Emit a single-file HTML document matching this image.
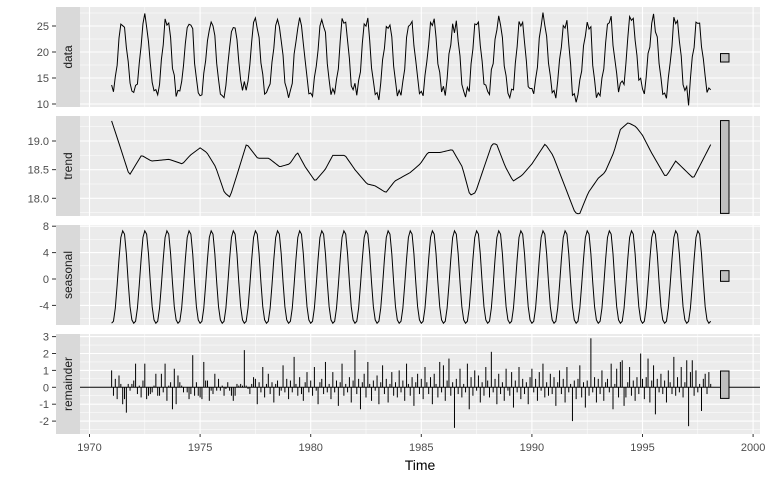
<!DOCTYPE html>
<html><head><meta charset="utf-8"><style>
body{margin:0;background:#fff;}
svg{display:block;font-family:"Liberation Sans",sans-serif;}
</style></head><body>
<svg id="chart" width="768" height="480" viewBox="0 0 768 480" xmlns="http://www.w3.org/2000/svg"></svg>
<script>
// ---- data ----
const startYear = 1971;
const seasonalPattern = [-6.7,-6.4,-4.4,-0.9,3.0,6.3,7.3,6.8,3.8,-0.5,-4.2,-6.2];
const trendYears = [1971.0,1971.3,1971.8,1972.35,1972.8,1973.6,1974.2,1974.55,1975.0,1975.3,1975.7,1976.1,1976.35,1976.7,1977.1,1977.6,1978.1,1978.6,1979.05,1979.4,1979.75,1980.2,1980.65,1981.0,1981.55,1982.0,1982.55,1982.9,1983.4,1983.8,1984.5,1984.95,1985.3,1985.85,1986.4,1986.85,1987.2,1987.45,1987.8,1988.2,1988.4,1988.8,1989.15,1989.55,1990.0,1990.6,1990.95,1991.5,1991.95,1992.15,1992.55,1993.0,1993.3,1993.7,1994.0,1994.35,1994.7,1995.0,1995.4,1996.0,1996.1,1996.5,1997.3,1998.1];
const trendValues = [19.35,19.0,18.4,18.75,18.65,18.68,18.6,18.75,18.88,18.8,18.55,18.1,18.02,18.45,18.95,18.7,18.7,18.55,18.6,18.8,18.55,18.3,18.5,18.75,18.75,18.5,18.25,18.22,18.1,18.3,18.45,18.6,18.8,18.8,18.85,18.55,18.05,18.1,18.5,18.95,18.95,18.55,18.3,18.4,18.6,18.95,18.75,18.2,17.75,17.72,18.1,18.35,18.45,18.8,19.2,19.32,19.25,19.1,18.8,18.4,18.4,18.65,18.35,18.95];
const remainderValues = [
1.0,-0.5,0.5,-0.7,0.7,0.2,-1.0,-0.7,-1.5,0.2,-0.2,0.2,
0.4,1.4,-0.4,0.1,-0.6,0.4,1.4,-0.7,-0.5,-0.4,-0.3,0.1,
0.8,-0.5,-0.5,0.8,-0.3,1.4,-0.8,0.1,0.3,-1.3,1.1,-1.0,
0.7,0.3,0.1,-0.3,0.0,-0.3,-0.7,-0.4,1.9,-0.5,0.3,-0.5,
-0.6,-0.7,1.5,0.4,0.4,-0.8,-0.2,-0.4,0.8,-0.2,0.5,-0.2,
0.1,-0.5,-0.1,0.3,-0.2,-0.5,-0.8,-0.5,0.2,0.1,0.2,0.1,
2.2,0.1,-0.1,-0.4,0.2,0.6,0.5,-1.0,0.3,-0.3,1.2,-0.6,
0.2,0.8,-0.4,0.3,-0.9,0.2,0.4,-0.5,-0.2,1.3,-0.3,0.5,
-0.7,0.4,-0.3,1.8,0.2,-0.5,0.6,-0.4,-0.8,0.3,0.9,-0.3,
0.4,-0.5,1.2,-0.2,-1.0,0.3,0.5,-0.4,1.5,-0.3,0.2,-0.7,
0.9,-0.3,0.4,-1.1,0.3,1.4,-0.5,0.2,-0.3,0.6,-0.9,0.4,
2.2,-0.4,0.5,-1.3,0.3,0.8,-0.6,1.5,0.2,-0.8,0.4,-0.2,
0.7,-1.0,0.3,1.3,-0.4,0.5,-0.9,0.2,0.9,-0.5,0.3,-0.6,
1.0,-0.3,0.4,-0.8,1.4,0.2,-0.5,0.6,-1.1,0.3,0.8,-0.4,
0.5,-0.7,1.2,0.3,-0.4,0.6,-1.0,0.8,0.2,-0.6,1.5,-0.3,
1.3,-0.8,0.4,1.7,-0.5,0.3,-2.4,0.5,-0.4,1.1,-0.6,0.2,
-0.3,1.4,-1.3,0.6,-0.5,1.0,-0.2,0.7,-0.9,0.3,-0.5,1.2,
0.4,-0.6,2.1,-0.3,0.5,-1.0,0.8,-0.4,0.3,-0.8,1.1,-0.2,
-0.5,0.9,-1.2,0.4,-0.3,1.2,-0.7,0.5,-0.4,0.3,-1.0,0.6,
1.1,-0.3,0.5,-0.8,0.9,-0.2,1.4,-0.6,0.3,-0.5,0.8,-0.4,
0.6,-1.1,0.3,1.0,-0.4,0.5,-0.9,1.2,-0.3,0.2,-2.0,0.4,
-0.7,0.5,1.3,-0.6,0.3,-1.2,0.4,-0.5,2.9,-0.3,0.6,-0.9,
0.5,-0.4,1.0,-0.8,0.3,0.5,-0.3,1.4,-1.3,0.2,1.1,-0.6,
1.5,1.6,-1.1,-0.6,0.3,1.2,-0.5,0.4,-0.8,0.6,-0.4,2.0,
0.5,-0.7,0.6,1.7,-0.9,0.4,1.3,-1.6,0.5,-0.3,0.8,-0.4,
0.4,-0.9,1.0,0.3,-0.4,1.8,-0.5,0.6,-0.3,1.2,-0.6,0.3,
1.6,-2.3,0.9,1.6,-0.5,1.0,-0.3,0.2,-1.4,0.5,0.8,-0.4,
0.9,0.2];
const xTicks = [1970,1975,1980,1985,1990,1995,2000];
const dataTicks = [10,15,20,25];
const trendTicks = [18.0,18.5,19.0];
const seasonalTicks = [-4,0,4,8];
const remainderTicks = [-2,-1,0,1,2,3];
const rangeBarLength = 1.62;

// ---- helpers ----
const NS="http://www.w3.org/2000/svg", svg=document.getElementById('chart');
function mk(tag,at,parent){const e=document.createElementNS(NS,tag);for(const k in at)e.setAttribute(k,at[k]);(parent||svg).appendChild(e);return e;}
const X0=80,X1=760;
const xs=yr=>89.5+(yr-1970)*22.12;
const times=remainderValues.map((_,i)=>startYear+i/12);
function trendAt(t){for(let i=0;i<trendYears.length-1;i++){if(t<=trendYears[i+1]){const f=(t-trendYears[i])/(trendYears[i+1]-trendYears[i]);return trendValues[i]+f*(trendValues[i+1]-trendValues[i]);}}return trendValues[trendValues.length-1];}
const trendSeries=times.map(trendAt);
const seasonalSeries=times.map((_,i)=>seasonalPattern[i%12]);
const dataSeries=times.map((_,i)=>trendSeries[i]+seasonalSeries[i]+remainderValues[i]);

const panels=[
 {name:'data',top:7,bot:107,y:v=>26-(v-25)*5.2,ticks:dataTicks,minor:[12.5,17.5,22.5,27.5],fmt:v=>String(v),series:dataSeries,mid:57.8,scale:5.2},
 {name:'trend',top:116,bot:216,y:v=>141-(v-19)*57.3,ticks:trendTicks,minor:[17.75,18.25,18.75,19.25],fmt:v=>v.toFixed(1),series:trendSeries,mid:167,scale:57.3},
 {name:'seasonal',top:225,bot:325,y:v=>279-v*6.6,ticks:seasonalTicks,minor:[-6,-2,2,6],fmt:v=>String(v),series:seasonalSeries,mid:276,scale:6.6},
 {name:'remainder',top:334,bot:434,y:v=>387.3-v*16.9,ticks:remainderTicks,minor:[-2.5,-1.5,-0.5,0.5,1.5,2.5],fmt:v=>String(v),series:remainderValues,mid:384.7,scale:16.9,bars:true}
];

panels.forEach(p=>{
 const g=mk('g',{});
 
 
 const bg=mk('rect',{x:X0,y:p.top,width:X1-X0,height:p.bot-p.top,fill:'#EBEBEB'},g);
 
 
 p.minor.forEach(v=>{const y=p.y(v);if(y>p.top&&y<p.bot)mk('line',{x1:X0,x2:X1,y1:y,y2:y,stroke:'#fff','stroke-width':0.5},g);});
 [1972.5,1977.5,1982.5,1987.5,1992.5,1997.5].forEach(yr=>mk('line',{x1:xs(yr),x2:xs(yr),y1:p.top,y2:p.bot,stroke:'#fff','stroke-width':0.5},g));
 p.ticks.forEach(v=>{const y=p.y(v);mk('line',{x1:X0,x2:X1,y1:y,y2:y,stroke:'#fff','stroke-width':1.1},g);
  mk('line',{x1:52,x2:56,y1:y,y2:y,stroke:'#333','stroke-width':1},g);
  const t=mk('text',{x:49,y:y+4,'text-anchor':'end','font-size':11,fill:'#4D4D4D'},g);t.textContent=p.fmt(v);
  
  });
 xTicks.forEach(yr=>mk('line',{x1:xs(yr),x2:xs(yr),y1:p.top,y2:p.bot,stroke:'#fff','stroke-width':1.1},g));
 const st=mk('rect',{x:56,y:p.top,width:24,height:p.bot-p.top,fill:'#D9D9D9'},g);
 
 
 const cy=(p.top+p.bot)/2;
 const lt=mk('text',{x:0,y:0,transform:`translate(72,${cy}) rotate(-90)`,'text-anchor':'middle','font-size':12,fill:'#1A1A1A'},g);
 lt.textContent=p.name;
 
 
 if(p.bars){
  const zl=mk('line',{x1:X0,x2:X1,y1:p.y(0),y2:p.y(0),stroke:'#000','stroke-width':1},g);
  
  
  p.series.forEach((v,i)=>{const b=mk('line',{x1:xs(times[i]),x2:xs(times[i]),y1:p.y(0),y2:p.y(v),stroke:'#000','stroke-width':1},g);
   
   });
 } else {
  const d=p.series.map((v,i)=>(i?'L':'M')+xs(times[i]).toFixed(2)+','+p.y(v).toFixed(2)).join('');
  const pl=mk('path',{d:d,fill:'none',stroke:'#000','stroke-width':1},g);
  
  
 }
 const h=rangeBarLength*p.scale;
 const rb=mk('rect',{x:720.5,y:p.mid-h/2,width:8.5,height:h,fill:'#BFBFBF',stroke:'#000','stroke-width':1},g);
 
 
});
xTicks.forEach(yr=>{mk('line',{x1:xs(yr),x2:xs(yr),y1:434,y2:437,stroke:'#333','stroke-width':1});
 const t=mk('text',{x:xs(yr),y:451,'text-anchor':'middle','font-size':11,fill:'#4D4D4D'});t.textContent=yr;
 
 });
const xt=mk('text',{x:420,y:470,'text-anchor':'middle','font-size':14,fill:'#000'});
xt.textContent='Time';


</script>
</body></html>
